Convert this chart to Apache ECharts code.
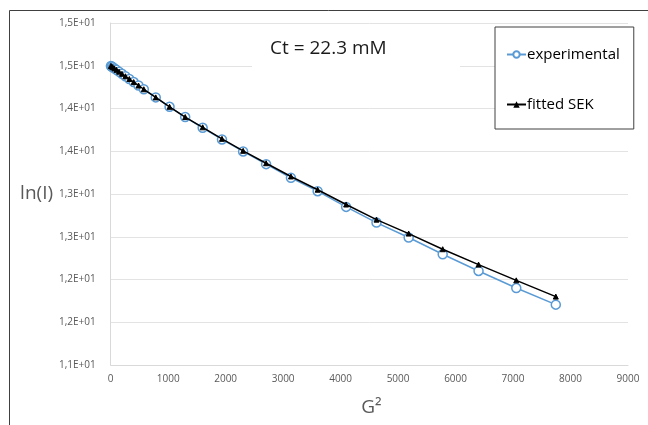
<!DOCTYPE html>
<html><head><meta charset="utf-8">
<script src="https://cdn.jsdelivr.net/npm/echarts@6/dist/echarts.min.js"></script>
<style>html,body{margin:0;padding:0;background:#fff}#c{width:648px;height:425px}</style>
</head><body><div id="c"></div>
<script>
const gValues = [4,16,36,64,100,144,196,256,324,400,484,576,784,1024,1296,1600,1936,2304,2704,3136,3600,4096,4624,5184,5776,6400,7056,7744];
const experimental = [14.498,14.492,14.483,14.469,14.452,14.431,14.406,14.377,14.345,14.309,14.269,14.225,14.13,14.02,13.90,13.774,13.638,13.498,13.349,13.189,13.033,12.849,12.666,12.491,12.295,12.10,11.90,11.706];
const fittedSEK = [14.498,14.492,14.483,14.469,14.452,14.431,14.406,14.377,14.345,14.309,14.269,14.225,14.13,14.02,13.90,13.78,13.645,13.505,13.36,13.205,13.05,12.877,12.70,12.537,12.354,12.174,11.99,11.80];
const yTickLabels = ['1,1E+01','1,2E+01','1,2E+01','1,3E+01','1,3E+01','1,4E+01','1,4E+01','1,5E+01','1,5E+01'];
const xTickLabels = ['0','1000','2000','3000','4000','5000','6000','7000','8000','9000'];
const seriesNames = ['experimental','fitted SEK'];
const annotation = 'Ct = 22.3 mM';

const FONT = 'Open Sans';
const chart = echarts.init(document.getElementById('c'), null, {renderer:'canvas'});
chart.setOption({
  animation:false,
  backgroundColor:'#fff',
  textStyle:{fontFamily:FONT},
  grid:{left:110.7, right:20, top:23, bottom:60},
  xAxis:{
    type:'value', min:0, max:9000, interval:1000,
    name:'G²', nameLocation:'middle', nameGap:33,
    nameTextStyle:{fontSize:19, color:'#595959', fontFamily:FONT, padding:[0,0,0,4]},
    axisLine:{show:true, lineStyle:{color:'#d9d9d9'}},
    axisTick:{show:false},
    splitLine:{show:false},
    axisLabel:{color:'#595959', fontSize:10, margin:9, formatter:(v)=>xTickLabels[Math.round(v/1000)]}
  },
  yAxis:{
    type:'value', min:11, max:15, interval:0.5,
    name:'ln(I)', nameLocation:'middle', nameRotate:0, nameGap:53,
    nameTextStyle:{fontSize:19, color:'#595959', fontFamily:FONT, align:'right'},
    axisLine:{show:true, lineStyle:{color:'#d9d9d9'}},
    axisTick:{show:false},
    splitLine:{show:true, lineStyle:{color:'#e3e3e3', width:1}},
    axisLabel:{color:'#595959', fontSize:10, margin:15, formatter:(v)=>yTickLabels[Math.round((v-11)/0.5)]}
  },
  legend:{
    orient:'vertical', left:495, top:27,
    backgroundColor:'#fff', borderColor:'#404040', borderWidth:1,
    padding:[20,14,17,11], itemGap:35, itemWidth:19, itemHeight:8,
    textStyle:{fontSize:15, color:'#000', fontFamily:FONT, padding:[0,0,0,-4]},
    data:seriesNames
  },
  graphic:[
    {type:'line', shape:{x1:9.5,y1:10.5,x2:648,y2:10.5}, style:{stroke:'#404040', lineWidth:1}, silent:true},
    {type:'line', shape:{x1:9.5,y1:10.5,x2:9.5,y2:425}, style:{stroke:'#404040', lineWidth:1}, silent:true},
    {type:'rect', shape:{x:252,y:30,width:208,height:42}, style:{fill:'#fff'}, z:1, silent:true},
    {type:'text', left:270, top:39, z:2, style:{text:annotation, fontSize:19, fill:'#1a1a1a', fontFamily:FONT}, silent:true}
  ],
  series:[
    {
      name:seriesNames[0], type:'line',
      data:gValues.map((g,i)=>[g,experimental[i]]),
      symbol:'circle', symbolSize:9, showAllSymbol:true,
      lineStyle:{color:'#5B9BD5', width:1.5},
      itemStyle:{color:'#fff', borderColor:'#5B9BD5', borderWidth:1.5},
      z:3
    },
    {
      name:seriesNames[1], type:'line',
      data:gValues.map((g,i)=>[g,fittedSEK[i]]),
      symbol:'triangle', symbolSize:5, showAllSymbol:true,
      lineStyle:{color:'#000', width:1.5},
      itemStyle:{color:'#000', borderColor:'#000'},
      z:4
    }
  ]
});
</script></body></html>
